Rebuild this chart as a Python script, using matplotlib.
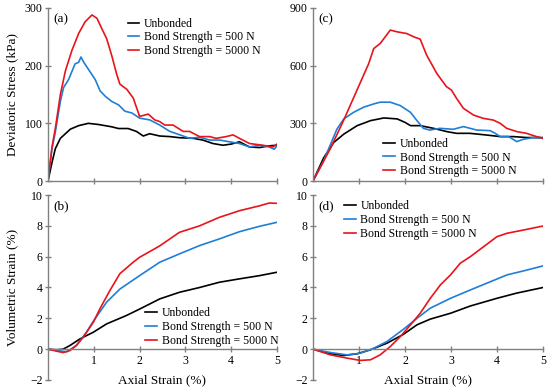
import matplotlib
matplotlib.use("Agg")
import matplotlib.pyplot as plt

plt.rcParams['font.family'] = ['Liberation Serif', 'DejaVu Serif']

labels = ["Unbonded", "Bond Strength = 500 N", "Bond Strength = 5000 N"]
colors = ["#000000", "#1f7fd6", "#e8141b"]

# (a) deviatoric stress, dense
a_unb_x = [0, 0.087, 0.16, 0.27, 0.38, 0.49, 0.67, 0.88, 1.1, 1.39, 1.54, 1.75, 1.93, 2.08, 2.22, 2.44, 2.66, 2.88, 3.17, 3.38, 3.6, 3.82, 4.0, 4.18, 4.4, 4.62, 4.83, 5.0]
a_unb_y = [0, 32, 56, 74, 82, 90, 96, 100, 98, 94, 91, 91, 86, 78, 82, 78, 77, 75, 74, 71, 65, 62, 64, 68, 59, 58, 61, 62]
a_500_x = [0, 0.087, 0.16, 0.27, 0.34, 0.45, 0.59, 0.67, 0.72, 0.78, 0.88, 1.03, 1.14, 1.25, 1.39, 1.54, 1.68, 1.83, 2.0, 2.22, 2.44, 2.66, 2.88, 3.09, 3.31, 3.53, 3.75, 3.96, 4.18, 4.4, 4.62, 4.83, 4.94, 5.0]
a_500_y = [0, 56, 85, 138, 162, 176, 203, 206, 215, 206, 194, 176, 156, 147, 138, 132, 121, 118, 109, 106, 97, 86, 80, 74, 76, 71, 71, 68, 65, 59, 62, 59, 55, 61]
a_5k_x = [0, 0.087, 0.16, 0.27, 0.38, 0.52, 0.67, 0.81, 0.96, 1.07, 1.17, 1.28, 1.39, 1.5, 1.57, 1.72, 1.86, 2.0, 2.19, 2.33, 2.44, 2.55, 2.73, 2.95, 3.09, 3.31, 3.53, 3.67, 3.89, 4.04, 4.18, 4.4, 4.69, 4.91, 5.0]
a_5k_y = [0, 59, 91, 150, 191, 226, 256, 276, 288, 282, 265, 247, 218, 185, 168, 159, 144, 112, 116, 106, 103, 97, 97, 86, 86, 77, 77, 74, 77, 80, 74, 65, 62, 59, 64]

# (b) volumetric strain, dense
b_unb_x = [0, 0.19, 0.33, 0.48, 0.7, 0.99, 1.28, 1.71, 2.0, 2.44, 2.87, 3.31, 3.74, 4.18, 4.62, 5.0]
b_unb_y = [0, -0.04, 0.0, 0.24, 0.67, 1.1, 1.64, 2.18, 2.6, 3.26, 3.69, 4.0, 4.34, 4.56, 4.77, 4.99]
b_500_x = [0, 0.19, 0.41, 0.62, 0.84, 0.99, 1.28, 1.57, 2.0, 2.44, 2.87, 3.31, 3.74, 4.18, 4.62, 5.0]
b_500_y = [0, -0.09, -0.17, 0.24, 1.1, 1.81, 3.05, 3.9, 4.77, 5.64, 6.18, 6.72, 7.15, 7.62, 7.97, 8.23]
b_5k_x = [0, 0.19, 0.33, 0.48, 0.62, 0.77, 0.99, 1.13, 1.35, 1.57, 1.86, 2.0, 2.44, 2.87, 3.31, 3.74, 4.18, 4.62, 4.83, 5.0]
b_5k_y = [0, -0.13, -0.22, -0.09, 0.24, 0.78, 1.75, 2.6, 3.8, 4.9, 5.64, 5.96, 6.7, 7.58, 8.0, 8.55, 8.98, 9.3, 9.48, 9.46]

# (c) deviatoric stress, loose
c_unb_x = [0, 0.23, 0.45, 0.67, 0.96, 1.25, 1.54, 1.83, 2.0, 2.12, 2.33, 2.62, 2.91, 3.12, 3.41, 3.78, 4.07, 4.36, 4.64, 5.0]
c_unb_y = [0, 120, 200, 244, 288, 314, 328, 323, 305, 288, 288, 274, 257, 248, 248, 239, 231, 231, 226, 226]
c_500_x = [0, 0.23, 0.38, 0.52, 0.67, 0.88, 1.1, 1.32, 1.46, 1.68, 1.9, 2.12, 2.26, 2.4, 2.54, 2.76, 3.05, 3.27, 3.56, 3.85, 3.96, 4.07, 4.25, 4.43, 4.57, 4.79, 5.0]
c_500_y = [0, 105, 190, 270, 323, 357, 384, 401, 410, 410, 392, 357, 314, 274, 265, 274, 269, 283, 265, 262, 248, 231, 231, 205, 217, 226, 222]
c_5k_x = [0, 0.38, 0.67, 0.96, 1.21, 1.32, 1.46, 1.68, 1.83, 2.04, 2.19, 2.33, 2.47, 2.69, 2.9, 3.01, 3.12, 3.27, 3.49, 3.7, 3.92, 4.07, 4.21, 4.43, 4.64, 4.86, 5.0]
c_5k_y = [0, 170, 318, 475, 610, 689, 715, 785, 776, 767, 750, 738, 655, 560, 491, 473, 430, 378, 343, 326, 317, 300, 274, 257, 248, 231, 222]

# (d) volumetric strain, loose
d_unb_x = [0, 0.38, 0.67, 0.96, 1.25, 1.61, 1.97, 2.26, 2.55, 2.99, 3.42, 4.0, 4.42, 5.0]
d_unb_y = [0, -0.3, -0.41, -0.3, -0.04, 0.39, 0.97, 1.58, 1.95, 2.33, 2.8, 3.3, 3.63, 4.0]
d_500_x = [0, 0.38, 0.74, 1.03, 1.32, 1.61, 1.97, 2.26, 2.55, 2.99, 3.42, 3.86, 4.22, 4.58, 5.0]
d_500_y = [0, -0.22, -0.37, -0.26, 0.06, 0.5, 1.3, 2.0, 2.66, 3.3, 3.84, 4.38, 4.82, 5.08, 5.4]
d_5k_x = [0, 0.38, 0.74, 1.03, 1.25, 1.46, 1.68, 1.9, 2.12, 2.33, 2.55, 2.77, 2.99, 3.2, 3.42, 3.71, 4.0, 4.22, 4.58, 5.0]
d_5k_y = [0, -0.37, -0.58, -0.73, -0.69, -0.37, 0.17, 0.82, 1.58, 2.33, 3.3, 4.17, 4.82, 5.57, 6.0, 6.65, 7.3, 7.52, 7.73, 7.99]

x_ticks = [1, 2, 3, 4, 5]

fig = plt.figure(figsize=(5.5, 3.88), dpi=100)
L1, R1 = 48/550, 277/550
L2, R2 = 313/550, 543/550
Ttop, Btop = 1-8/388, 1-181/388
Tbot, Bbot = 1-195/388, 1-380/388

ax_a = fig.add_axes([L1, Btop, R1-L1, Ttop-Btop])
ax_c = fig.add_axes([L2, Btop, R2-L2, Ttop-Btop])
ax_b = fig.add_axes([L1, Bbot, R1-L1, Tbot-Bbot])
ax_d = fig.add_axes([L2, Bbot, R2-L2, Tbot-Bbot])

spine_col = "#808080"
fs = 8.5

def style(ax):
    for s in ['top', 'right']:
        ax.spines[s].set_visible(False)
    for s in ['left', 'bottom']:
        ax.spines[s].set_color(spine_col)
        ax.spines[s].set_linewidth(1.0)
    ax.tick_params(direction='inout', length=4, width=1.0, color=spine_col, labelsize=fs, pad=2)
    ax.set_xlim(0, 5)
    ax.set_xticks(x_ticks)

sets = [
    (ax_a, [(a_unb_x, a_unb_y), (a_500_x, a_500_y), (a_5k_x, a_5k_y)]),
    (ax_b, [(b_unb_x, b_unb_y), (b_500_x, b_500_y), (b_5k_x, b_5k_y)]),
    (ax_c, [(c_unb_x, c_unb_y), (c_500_x, c_500_y), (c_5k_x, c_5k_y)]),
    (ax_d, [(d_unb_x, d_unb_y), (d_500_x, d_500_y), (d_5k_x, d_5k_y)]),
]
for ax, series in sets:
    style(ax)
    for (x, y), c, lab in zip(series, colors, labels):
        ax.plot(x, y, color=c, lw=1.2, label=lab)

ax_a.set_ylim(0, 300); ax_a.set_yticks([0, 100, 200, 300])
ax_c.set_ylim(0, 900); ax_c.set_yticks([0, 300, 600, 900])
for ax in (ax_a, ax_c):
    ax.set_xticklabels([])
for ax in (ax_b, ax_d):
    ax.set_ylim(-2, 10)
    ax.set_yticks([-2, 0, 2, 4, 6, 8, 10])
    ax.set_yticklabels(["\u22122", "0", "2", "4", "6", "8", "10"])
    ax.spines['bottom'].set_position(('data', 0))
    ax.set_xlabel("Axial Strain (%)", fontsize=9.5, labelpad=0)
    ax.xaxis.set_label_coords(0.5, -0.035, transform=ax.transAxes)
    ax.xaxis.label.set_va('bottom')

ax_a.set_ylabel("Deviatoric Stress (kPa)", fontsize=9.5, labelpad=2)
ax_b.set_ylabel("Volumetric Strain (%)", fontsize=9.5, labelpad=2)
ax_a.yaxis.set_label_coords(-0.13, 0.5)
ax_b.yaxis.set_label_coords(-0.13, 0.5)

for ax, t in zip((ax_a, ax_b, ax_c, ax_d), ["(a)", "(b)", "(c)", "(d)"]):
    ax.text(0.025, 0.97, t, transform=ax.transAxes, fontsize=9.5, va='top', ha='left')

leg_kw = dict(frameon=False, fontsize=8.5, handlelength=1.0, handletextpad=0.4, labelspacing=0.15, borderaxespad=0.2)
ax_a.legend(loc='upper left', bbox_to_anchor=(0.317, 0.985), **leg_kw)
ax_c.legend(loc='lower left', bbox_to_anchor=(0.275, -0.02), **leg_kw)
ax_b.legend(loc='lower right', bbox_to_anchor=(1.037, 0.14), **leg_kw)
ax_d.legend(loc='upper left', bbox_to_anchor=(0.103, 1.01), **leg_kw)

fig.savefig("out.png", dpi=100)
